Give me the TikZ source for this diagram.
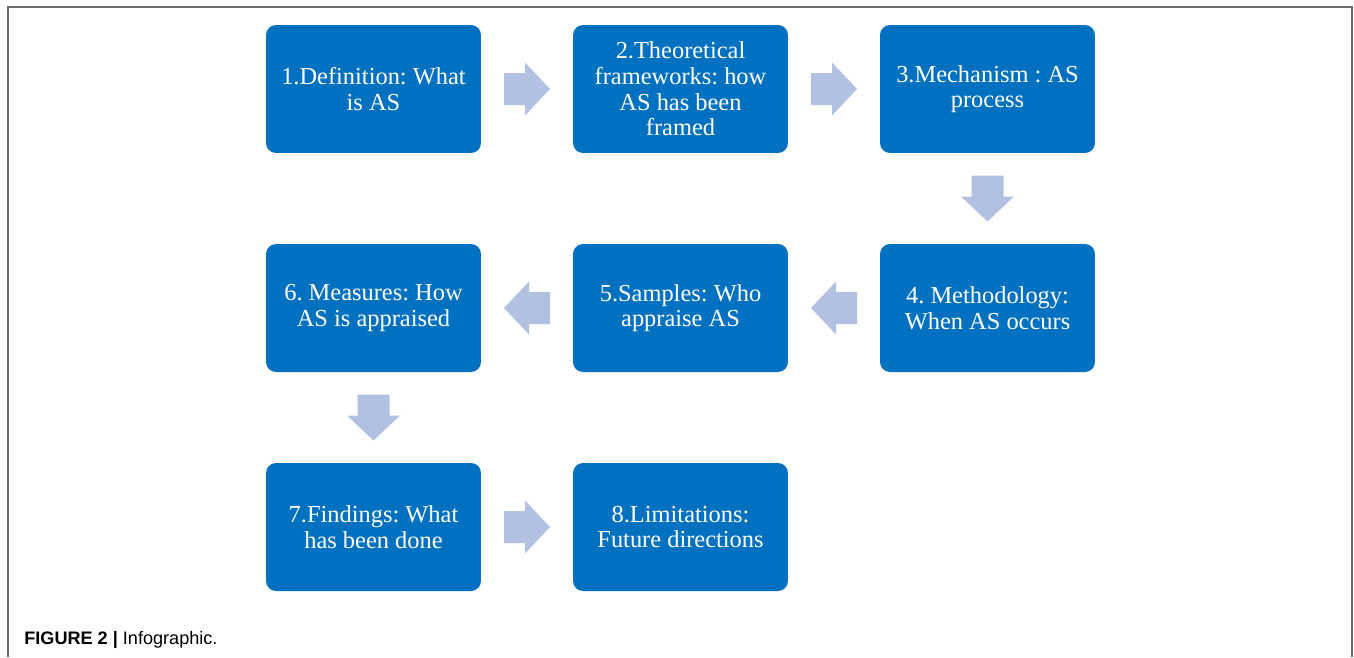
\documentclass[tikz,border=0pt]{standalone}
\usepackage{fontspec}
\setmainfont{Liberation Serif}
\newfontfamily\capfont{Liberation Sans}
\usetikzlibrary{calc}
\frenchspacing

\definecolor{boxblue}{RGB}{0,112,192}
\definecolor{arrowblue}{RGB}{178,192,226}
\definecolor{framegray}{RGB}{110,110,110}

\tikzset{
  stepbox/.style = {rounded corners = 0.2cm, fill = boxblue, text = white,
    minimum width = 4.3cm, minimum height = 2.56cm, align = center,
    font = \fontsize{13.9}{14.6}\selectfont},
  flowarrow/.style = {fill = arrowblue}
}

% block arrow half way between two boxes
\newcommand{\flowArrow}[3]{
  \begin{scope}[shift = {($(#1)!0.5!(#2)$)}, rotate = #3]
    \fill [flowarrow] (-23,-16) -- (-2,-16) -- (-2,-26.5) -- (23,0)
      -- (-2,26.5) -- (-2,16) -- (-23,16) -- cycle;
  \end{scope}
}

\begin{document}
\begin{tikzpicture}[x = 0.02cm, y = -0.02cm]
\useasboundingbox (0,0) rectangle (1354,657);
\draw [framegray, line width = 0.6pt] (8,657) -- (8,7) -- (1352,7) -- (1352,657);

\node [stepbox] (def) at (373.5,89) {1.Definition: What\\is AS};
\node [stepbox] (frame) at (680.5,89) {2.Theoretical\\frameworks: how\\AS has been\\framed};
\node [stepbox] (mech) at (987.5,89) {3.Mechanism : AS\\process};
\node [stepbox] (meth) at (987.5,308) {4. Methodology:\\When AS occurs};
\node [stepbox] (samp) at (680.5,308) {5.Samples: Who\\appraise AS};
\node [stepbox] (meas) at (373.5,308) {6. Measures: How\\AS is appraised};
\node [stepbox] (find) at (373.5,527) {7.Findings: What\\has been done};
\node [stepbox] (limit) at (680.5,527) {8.Limitations:\\Future directions};

\flowArrow{def.east}{frame.west}{0}
\flowArrow{frame.east}{mech.west}{0}
\flowArrow{mech.south}{meth.north}{-90}
\flowArrow{meth.west}{samp.east}{180}
\flowArrow{samp.west}{meas.east}{180}
\flowArrow{meas.south}{find.north}{-90}
\flowArrow{find.east}{limit.west}{0}

\node [anchor = base west, inner sep = 0pt, font = \capfont\fontsize{10.3}{12}\selectfont]
  (cap) at (24,644) {\textbf{FIGURE 2 |} Infographic.};
\end{tikzpicture}
\end{document}
